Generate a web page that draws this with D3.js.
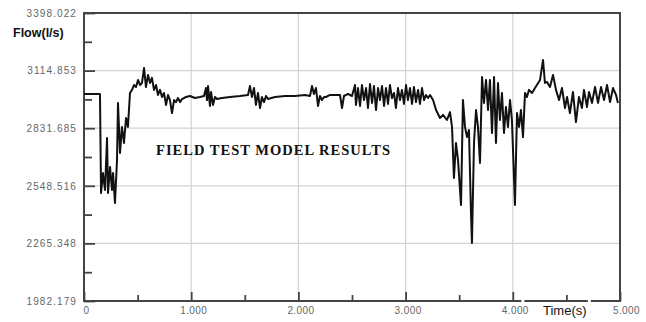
<!DOCTYPE html>
<html>
<head>
<meta charset="utf-8">
<script src="https://cdn.jsdelivr.net/npm/d3@7"></script>
<style>
  body { margin: 0; background: #fff; }
  svg { display: block; }
</style>
</head>
<body>
<div id="chart"></div>
<script>
// time (s) and flow (l/s)
var times = [0, 149, 159, 177, 196, 215, 224, 243, 261, 271, 289, 308, 317, 336, 354, 373, 392, 410,
  429, 448, 466, 485, 504, 522, 541, 560, 578, 597, 616, 634, 653, 672, 690, 709, 728, 746, 765, 784,
  802, 821, 840, 858, 877, 896, 914, 951, 989, 1035, 1082, 1119, 1138, 1147, 1157, 1175, 1185, 1203,
  1222, 1241, 1287, 1362, 1455, 1530, 1548, 1567, 1586, 1604, 1623, 1642, 1660, 1679, 1698, 1716,
  1782, 1875, 1968, 2061, 2108, 2127, 2145, 2164, 2183, 2201, 2220, 2239, 2257, 2295, 2341, 2388,
  2407, 2425, 2463, 2500, 2528, 2537, 2556, 2575, 2593, 2612, 2631, 2649, 2668, 2687, 2705, 2724,
  2743, 2761, 2780, 2799, 2817, 2836, 2854, 2873, 2892, 2910, 2929, 2948, 2966, 2985, 3004, 3022,
  3041, 3060, 3078, 3097, 3116, 3134, 3153, 3172, 3190, 3209, 3228, 3256, 3284, 3321, 3349, 3386,
  3414, 3433, 3451, 3470, 3489, 3517, 3535, 3554, 3573, 3591, 3610, 3619, 3638, 3657, 3675, 3694,
  3713, 3731, 3750, 3769, 3787, 3806, 3825, 3843, 3862, 3880, 3899, 3918, 3936, 3955, 3974, 3992,
  4020, 4039, 4058, 4076, 4095, 4114, 4132, 4151, 4179, 4207, 4254, 4282, 4300, 4319, 4347, 4375,
  4403, 4431, 4459, 4487, 4506, 4533, 4561, 4589, 4617, 4645, 4664, 4692, 4711, 4739, 4767, 4795,
  4823, 4851, 4879, 4907, 4935, 4963, 4981]
var flows = [3000, 3000, 2513, 2611, 2528, 2784, 2513, 2641, 2528, 2611, 2464, 2675, 2956, 2710, 2838,
  2759, 2882, 2838, 3005, 3020, 3044, 3034, 3069, 3044, 3054, 3128, 3034, 3093, 3054, 3079, 3020,
  3044, 2995, 3020, 2985, 3005, 2946, 2995, 2970, 2906, 2970, 2960, 2980, 2960, 2975, 2985, 2990,
  2980, 2985, 2990, 3029, 2970, 3039, 2941, 3010, 2946, 2985, 2975, 2980, 2985, 2990, 2995, 3039,
  2985, 3029, 2946, 3005, 2931, 2985, 2960, 2990, 2975, 2985, 2990, 2990, 2995, 2990, 3039, 3000,
  3029, 2941, 2990, 2970, 2985, 2985, 2995, 2995, 2995, 2931, 2990, 3000, 2990, 3044, 2946, 3029,
  2941, 3044, 2970, 3029, 2931, 3049, 2956, 3039, 2921, 3029, 2970, 3039, 2941, 3029, 2951, 3044,
  2980, 3005, 2931, 3029, 2970, 3020, 2951, 3044, 2970, 3029, 2951, 3034, 2960, 3020, 2951, 3029,
  2970, 2995, 2980, 2995, 2970, 2921, 2882, 2897, 2872, 2911, 2838, 2587, 2759, 2675, 2454, 2970,
  2838, 2788, 2823, 2415, 2267, 2759, 2921, 2838, 2661, 3083, 2956, 3069, 2921, 3069, 2808, 3083,
  2759, 3054, 2872, 3005, 2808, 2936, 2838, 2970, 2872, 2454, 2906, 2838, 2921, 2788, 3005, 2985,
  3020, 3005, 3029, 3069, 3167, 3054, 3059, 3034, 3093, 3020, 2970, 3029, 2931, 2985, 2906, 3010,
  2862, 2985, 2931, 3020, 2936, 3010, 2956, 3034, 2956, 3034, 2970, 3044, 2960, 3029, 2995, 2956]

var yTicks = [1982.179, 2265.348, 2548.516, 2831.685, 3114.853, 3398.022]
var xTicks = [0, 1000, 2000, 3000, 4000, 5000]
var xTickLabels = ["0", "1.000", "2.000", "3.000", "4.000", "5.000"]

var width = 646, height = 322
var plotLeft = 84, plotRight = 620, plotTop = 13, plotBottom = 301

var svg = d3.select("#chart").append("svg")
  .attr("width", width)
  .attr("height", height)

var x = d3.scaleLinear().domain([0, 5000]).range([plotLeft, plotRight])
var y = d3.scaleLinear().domain([yTicks[0], yTicks[yTicks.length - 1]]).range([plotBottom, plotTop])

// grid lines
svg.append("g").selectAll("line")
  .data(yTicks.slice(1, -1))
  .enter().append("line")
  .attr("x1", plotLeft).attr("x2", plotRight)
  .attr("y1", d => y(d)).attr("y2", d => y(d))
  .attr("stroke", "#d2d2d2").attr("stroke-width", 1.2)
svg.append("g").selectAll("line")
  .data(xTicks.slice(1, -1))
  .enter().append("line")
  .attr("x1", d => x(d)).attr("x2", d => x(d))
  .attr("y1", plotTop).attr("y2", plotBottom)
  .attr("stroke", "#d2d2d2").attr("stroke-width", 1.2)

// y axis, ticks pointing into the plot
var yMinor = d3.range(yTicks.length - 1).map(i => (yTicks[i] + yTicks[i + 1]) / 2)
var yAxis = svg.append("g")
  .attr("transform", "translate(" + plotLeft + ",0)")
  .call(d3.axisLeft(y).tickValues(yTicks).tickSize(-11).tickPadding(7)
    .tickFormat(d3.format(".3f")))
yAxis.select(".domain").remove()
yAxis.selectAll("line").attr("stroke", "#444").attr("stroke-width", 1.8)
yAxis.selectAll("text")
  .attr("fill", "#666")
  .style("font-family", "Liberation Sans, Arial, sans-serif")
  .style("font-size", "10px")
  .style("letter-spacing", "1.1px")
var yAxisMinor = svg.append("g")
  .attr("transform", "translate(" + plotLeft + ",0)")
  .call(d3.axisLeft(y).tickValues(yMinor).tickSize(-8).tickFormat(""))
yAxisMinor.select(".domain").remove()
yAxisMinor.selectAll("line").attr("stroke", "#444").attr("stroke-width", 1.8)

// x axis, ticks pointing up
var xMinor = d3.range(xTicks.length - 1).map(i => (xTicks[i] + xTicks[i + 1]) / 2)
var xAxis = svg.append("g")
  .attr("transform", "translate(0," + plotBottom + ")")
  .call(d3.axisBottom(x).tickValues(xTicks).tickSize(-9).tickPadding(6)
    .tickFormat((d, i) => xTickLabels[i]))
xAxis.select(".domain").remove()
xAxis.selectAll("line").attr("stroke", "#444").attr("stroke-width", 1.8)
xAxis.selectAll("text")
  .attr("fill", "#666")
  .attr("dx", (d, i) => i == xTicks.length - 1 ? 6 : 2)
  .style("font-family", "Liberation Sans, Arial, sans-serif")
  .style("font-size", "10px")
  .style("letter-spacing", "0.4px")
var xAxisMinor = svg.append("g")
  .attr("transform", "translate(0," + plotBottom + ")")
  .call(d3.axisBottom(x).tickValues(xMinor).tickSize(-6).tickFormat(""))
xAxisMinor.select(".domain").remove()
xAxisMinor.selectAll("line").attr("stroke", "#444").attr("stroke-width", 1.8)

// frame
svg.append("rect")
  .attr("x", plotLeft).attr("y", plotTop)
  .attr("width", plotRight - plotLeft).attr("height", plotBottom - plotTop)
  .attr("fill", "none")
  .attr("stroke", "#444")
  .attr("stroke-width", 2)

// small breaks in the bottom axis around the time label
svg.append("g").selectAll("rect")
  .data([4080, 4700])
  .enter().append("rect")
  .attr("x", d => x(d)).attr("y", plotBottom - 1.5)
  .attr("width", 3).attr("height", 3)
  .attr("fill", "#fff")

// flow line
var line = d3.line()
  .x((d, i) => x(times[i]))
  .y(d => y(d))
svg.append("path")
  .datum(flows)
  .attr("d", line)
  .attr("fill", "none")
  .attr("stroke", "#111")
  .attr("stroke-width", 2)
  .attr("stroke-linejoin", "round")

// labels
svg.append("text")
  .attr("x", 13).attr("y", 37)
  .text("Flow(l/s)")
  .style("font-family", "Liberation Sans, Arial, sans-serif")
  .style("font-size", "12.5px")
  .style("font-weight", "bold")
  .attr("fill", "#111")

svg.append("text")
  .attr("x", 543).attr("y", 315)
  .text("Time(s)")
  .style("font-family", "Liberation Sans, Arial, sans-serif")
  .style("font-size", "13px")
  .attr("fill", "#111")

svg.append("text")
  .attr("x", 156).attr("y", 155)
  .attr("textLength", 234)
  .text("FIELD TEST MODEL RESULTS")
  .style("font-family", "Liberation Serif, Times New Roman, serif")
  .style("font-size", "14.5px")
  .style("font-weight", "bold")
  .attr("fill", "#111")
</script>
</body>
</html>
